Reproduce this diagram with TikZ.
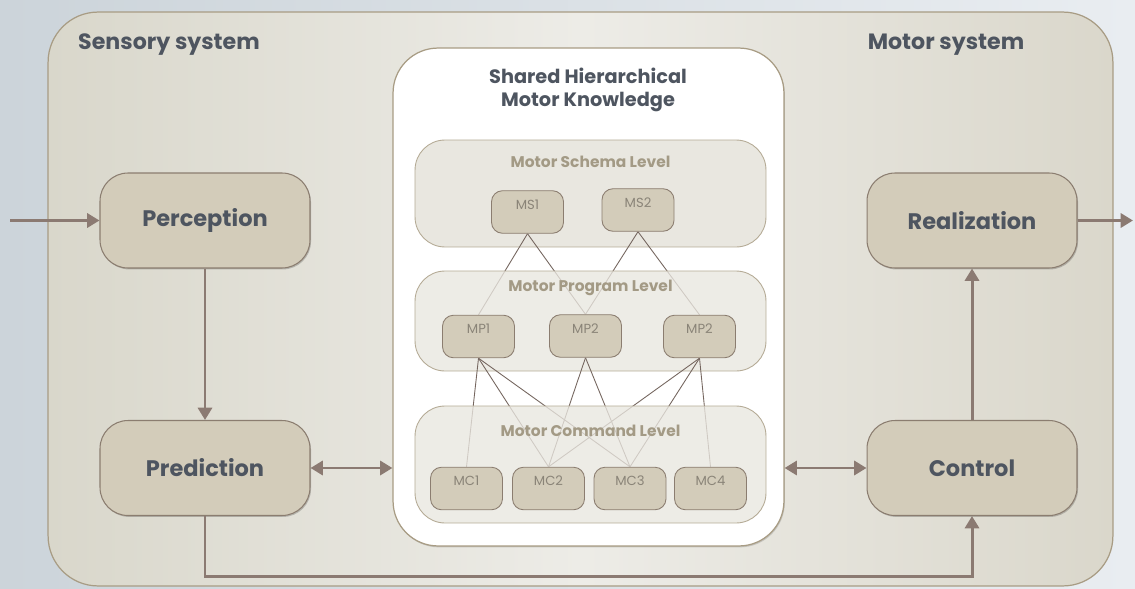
\documentclass[tikz,border=0pt]{standalone}
\usepackage{fontspec}
\setmainfont{Poppins}
\usetikzlibrary{arrows.meta,shadows}

\definecolor{pageleft}{HTML}{CCD4DA}
\definecolor{pageright}{HTML}{E9EDF1}
\definecolor{sysleft}{HTML}{D9D7CB}
\definecolor{sysmid}{HTML}{EDECE7}
\definecolor{sysright}{HTML}{DAD7CB}
\definecolor{sysline}{HTML}{A89C84}
\definecolor{blockfill}{HTML}{D3CCBA}
\definecolor{blockline}{HTML}{8B7D70}
\definecolor{levelfill}{HTML}{E9E7E0}
\definecolor{levelline}{HTML}{B5AB96}
\definecolor{darktext}{HTML}{4E5560}
\definecolor{leveltext}{HTML}{A39A85}
\definecolor{celltext}{HTML}{8A8478}
\definecolor{arrowcol}{HTML}{8B7A72}
\definecolor{linkcol}{HTML}{75665F}

\pgfdeclarelayer{bg}
\pgfdeclarelayer{levels}
\pgfsetlayers{bg,levels,main}

\tikzset{
    block/.style = {
        rectangle, rounded corners = 0.56cm,
        draw = blockline, fill = blockfill, line width = 0.6pt,
        minimum width = 4.2cm, minimum height = 1.9cm,
        text = darktext, font = \fontsize{12.8}{15}\selectfont\bfseries,
        drop shadow = {shadow xshift = 0.6pt, shadow yshift = -0.8pt,
            opacity = 0.2, fill = black}
    },
    cell/.style = {
        rectangle, rounded corners = 0.22cm,
        draw = blockline, fill = blockfill, line width = 0.5pt,
        minimum width = 1.44cm, minimum height = 0.66cm,
        text height = 1.3ex, text depth = 1.9ex,
        text = celltext, font = \fontsize{7.5}{9}\selectfont
    },
    level/.style = {
        rectangle, rounded corners = 0.6cm,
        draw = levelline, fill = levelfill, line width = 0.5pt,
        minimum width = 7.02cm
    },
    leveltitle/.style = {
        text = leveltext, font = \fontsize{8.8}{11}\selectfont\bfseries
    },
    heading/.style = {
        text = darktext, font = \fontsize{12.6}{15}\selectfont\bfseries
    },
    link/.style = {
        draw = linkcol, line width = 0.5pt
    },
    flow/.style = {
        draw = arrowcol, line width = 1.7pt,
        -{Triangle[length = 7pt, width = 8pt]}
    },
    twoflow/.style = {
        draw = arrowcol, line width = 1.7pt,
        {Triangle[length = 7pt, width = 8pt]}-{Triangle[length = 7pt, width = 8pt]}
    }
}

\begin{document}
\begin{tikzpicture}[x = 0.02cm, y = 0.02cm]

    % Page and the two systems.
    \begin{pgfonlayer}{bg}
        \shade [left color = pageleft, right color = pageright]
            (0, 0) rectangle (1135, -588);
        \node [rectangle, rounded corners = 1cm, draw = sysline, line width = 0.7pt,
            left color = sysleft, right color = sysright, middle color = sysmid,
            minimum width = 21.3cm, minimum height = 11.48cm] (sys) at (580.5, -299) {};
        \node [rectangle, rounded corners = 0.9cm, draw = sysline, line width = 0.7pt,
            fill = white, minimum width = 7.82cm, minimum height = 9.96cm,
            drop shadow = {shadow xshift = 0.5pt, shadow yshift = -0.8pt,
                opacity = 0.15, fill = black}] (know) at (588.5, -297) {};
    \end{pgfonlayer}
    \useasboundingbox (0, 0) rectangle (1135, -588);

    \node [heading] (senstitle) at (169, -45) {Sensory system};
    \node [heading] (mototitle) at (946, -45) {Motor system};
    \node [heading, align = center, font = \fontsize{11}{13}\selectfont\bfseries]
        (knowtitle) at (588, -90) {Shared Hierarchical\\Motor Knowledge};

    % Blocks of the two systems.
    \node [block] (perc) at (205, -220.5) {Perception};
    \node [block] (pred) at (205, -468) {Prediction};
    \node [block] (real) at (972, -220.5) {Realization};
    \node [block] (ctrl) at (972, -468) {Control};

    % Cells of the three levels.
    \node [cell, minimum height = 0.78cm] (ms1) at (527.5, -212) {MS1};
    \node [cell, minimum height = 0.76cm] (ms2) at (638, -210) {MS2};

    \node [cell] (mp1) at (478.5, -336.5) {MP1};
    \node [cell] (mp2) at (585.5, -336) {MP2};
    \node [cell] (mp3) at (699.5, -336.5) {MP2};

    \node [cell] (mc1) at (466.5, -488.5) {MC1};
    \node [cell] (mc2) at (548.5, -488.5) {MC2};
    \node [cell] (mc3) at (630, -488.5) {MC3};
    \node [cell] (mc4) at (710.5, -488.5) {MC4};

    % Levels and links between the cells.
    \begin{pgfonlayer}{levels}
        \node [level, minimum height = 2.14cm] (schema) at (590.5, -193.5) {};
        \node [leveltitle] (schematitle) at (590.5, -162) {Motor Schema Level};

        \draw [link] (ms1.south) -- (mp1.north);
        \draw [link] (ms1.south) -- (mp2.north);
        \draw [link] (ms2.south) -- (mp2.north);
        \draw [link] (ms2.south) -- (mp3.north);

        \node [level, minimum height = 2.0cm, fill opacity = 0.78] (program) at (590.5, -321) {};
        \node [leveltitle] (programtitle) at (590.5, -288) {Motor Program Level};

        \draw [link] (mp1.south) -- (mc1.north);
        \draw [link] (mp1.south) -- (mc2.north);
        \draw [link] (mp1.south) -- (mc3.north);
        \draw [link] (mp2.south) -- (mc2.north);
        \draw [link] (mp2.south) -- (mc3.north);
        \draw [link] (mp3.south) -- (mc2.north);
        \draw [link] (mp3.south) -- (mc3.north);
        \draw [link] (mp3.south) -- (mc4.north);

        \node [level, minimum height = 2.34cm, fill opacity = 0.78] (command) at (590.5, -464.5) {};
        \node [leveltitle] (commandtitle) at (590.5, -431) {Motor Command Level};
    \end{pgfonlayer}

    % Flow between the blocks.
    \coordinate (input) at (10, -220.5);
    \coordinate (output) at (1133, -220.5);
    \coordinate (loop) at (590, -576);

    \draw [flow] (input) -- (perc);
    \draw [flow] (real) -- (output);
    \draw [flow] (perc) -- (pred);
    \draw [flow] (ctrl) -- (real);
    \draw [twoflow] (pred.east) -- (pred.east -| know.west);
    \draw [twoflow] (know.east |- ctrl.west) -- (ctrl.west);
    \draw [flow] (pred.south) |- (loop) -| (ctrl.south);
\end{tikzpicture}
\end{document}
